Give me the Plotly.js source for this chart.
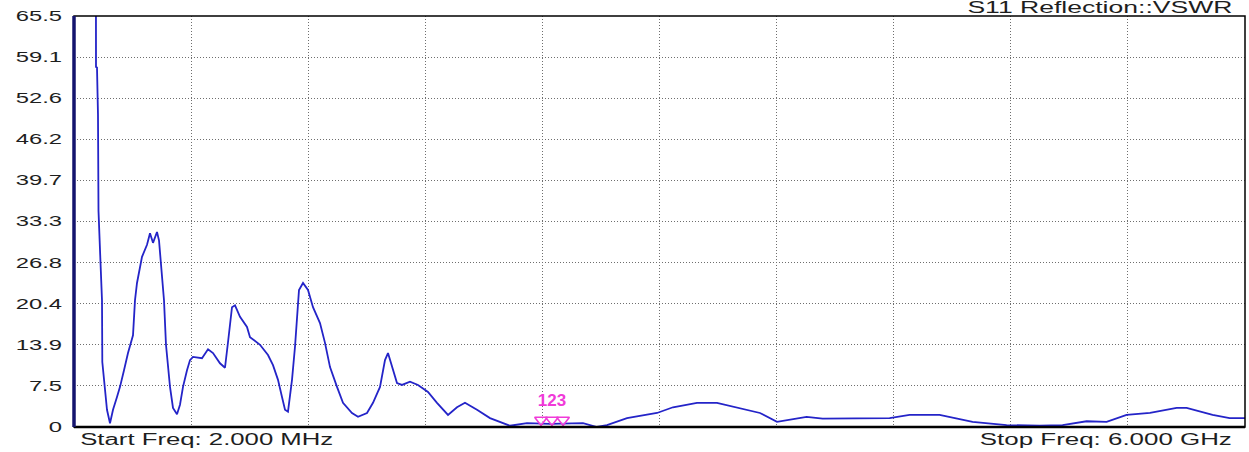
<!DOCTYPE html>
<html>
<head>
<meta charset="utf-8">
<script src="https://cdn.plot.ly/plotly-3.0.1.min.js"></script>
<style>
html,body{margin:0;padding:0;background:#fff;}
#chart{width:1249px;height:452px;}
</style>
</head>
<body>
<div id="chart"></div>
<script>
// Frequency in GHz and VSWR
const freqGHz = [0.002, 0.112, 0.1147, 0.1198, 0.1249, 0.1275, 0.1352, 0.1454, 0.1470, 0.1608, 0.1710, 0.1864, 0.2018, 0.2222, 0.2376, 0.2581, 0.2786, 0.3042, 0.3145, 0.3247, 0.3503, 0.3759, 0.3913, 0.4067, 0.4271, 0.4374, 0.4527, 0.4630, 0.4732, 0.4937, 0.5091, 0.5296, 0.5449, 0.5603, 0.5808, 0.5962, 0.6115, 0.6576, 0.6884, 0.7140, 0.7498, 0.7754, 0.7908, 0.8113, 0.8267, 0.8523, 0.8881, 0.9035, 0.9547, 0.9957, 1.0213, 1.0469, 1.0674, 1.0828, 1.0981, 1.1186, 1.1340, 1.1442, 1.1545, 1.1750, 1.2006, 1.2262, 1.2620, 1.2876, 1.3133, 1.3491, 1.3798, 1.4259, 1.4567, 1.5028, 1.5335, 1.5694, 1.5950, 1.6103, 1.6308, 1.6564, 1.6820, 1.7230, 1.7640, 1.8152, 1.8613, 1.9177, 1.9638, 2.0047, 2.0662, 2.1328, 2.2352, 2.3223, 2.4401, 2.6091, 2.6808, 2.7320, 2.8345, 2.9011, 2.9881, 3.0701, 3.1930, 3.2954, 3.3979, 3.5157, 3.6028, 3.6540, 3.7544, 3.8364, 4.1796, 4.2820, 4.4357, 4.6047, 4.7789, 4.9479, 5.0657, 5.1886, 5.2911, 5.3935, 5.5134, 5.6497, 5.7009, 5.8341, 5.9212, 6.000];
const vswr = [150, 150, 57.5, 57.4, 50.0, 34.9, 28.8, 20.9, 11.2, 7.3, 3.7, 1.6, 3.7, 5.7, 7.3, 9.9, 12.6, 15.4, 20.9, 23.6, 27.7, 29.6, 31.4, 29.9, 31.6, 30.3, 25.2, 20.9, 13.9, 7.3, 4.0, 3.0, 4.5, 7.3, 9.9, 11.5, 12.0, 11.8, 13.2, 12.6, 11.0, 10.3, 14.3, 19.8, 20.1, 18.3, 16.7, 15.1, 13.9, 12.3, 10.7, 8.4, 5.7, 3.7, 3.4, 8.4, 13.6, 18.9, 22.5, 23.6, 22.5, 19.8, 17.3, 14.2, 10.4, 7.3, 4.8, 3.2, 2.6, 3.2, 4.8, 7.3, 11.5, 12.6, 10.4, 7.9, 7.6, 8.1, 7.6, 6.5, 4.8, 2.9, 4.1, 4.8, 3.7, 2.4, 1.2, 1.6, 1.5, 1.6, 1.0, 1.3, 2.4, 2.7, 3.2, 4.1, 4.8, 4.8, 4.1, 3.2, 1.8, 2.1, 2.6, 2.3, 2.4, 2.9, 2.9, 1.8, 1.3, 1.2, 1.3, 1.9, 1.8, 2.9, 3.2, 4.0, 4.0, 2.9, 2.4, 2.4];

// Y-axis tick values and their printed labels
const yTickVals = [1, 7.45, 13.9, 20.35, 26.8, 33.25, 39.7, 46.15, 52.6, 59.05, 65.5];
const yTickText = ["0", "7.5", "13.9", "20.4", "26.8", "33.3", "39.7", "46.2", "52.6", "59.1", "65.5"];

// Markers 1,2,3
const markerFreq = [2.394, 2.450, 2.507];
const markerVswr = [2.1, 2.1, 2.1];
const markerLabelFreq = [2.45];
const markerLabelVswr = [4.9];
const markerLabelText = ["123"];

const startLabel = "Start Freq: 2.000 MHz";
const stopLabel = "Stop Freq: 6.000 GHz";
const chartTitle = "S11 Reflection::VSWR";

const fontFam = "Liberation Sans, Arial, sans-serif";
const textColor = "#1e1e1e";

const traces = [
  {
    x: freqGHz, y: vswr, type: "scatter", mode: "lines",
    line: {color: "#2424c8", width: 1.8},
    hoverinfo: "skip"
  },
  {
    x: markerFreq, y: markerVswr, type: "scatter", mode: "markers",
    marker: {symbol: "triangle-down", size: 11, color: "rgba(255,255,255,0.6)", line: {color: "#f03ad8", width: 1.6}},
    hoverinfo: "skip", cliponaxis: false
  },
  {
    x: markerLabelFreq, y: markerLabelVswr, type: "scatter", mode: "text",
    text: markerLabelText, textposition: "middle center",
    textfont: {family: fontFam, size: 17, color: "#f03ad8", weight: "bold"},
    hoverinfo: "skip", cliponaxis: false
  }
];

const layout = {
  width: 1249, height: 452,
  margin: {l: 74, r: 4, t: 16, b: 25},
  paper_bgcolor: "#ffffff", plot_bgcolor: "#ffffff",
  showlegend: false,
  xaxis: {
    range: [0.002, 6.0], tick0: 0.002, dtick: 0.5998, tickmode: "linear",
    showticklabels: false, ticks: "",
    showgrid: true, gridcolor: "#6e6e6e", griddash: "1px,2px", gridwidth: 1,
    zeroline: false, showline: false, fixedrange: true
  },
  yaxis: {
    range: [1, 65.5], tickmode: "array", tickvals: yTickVals, ticktext: yTickText,
    ticks: "", ticklabelstandoff: 11,
    tickfont: {family: fontFam, size: 14, color: textColor},
    showgrid: true, gridcolor: "#6e6e6e", griddash: "1px,2px", gridwidth: 1,
    zeroline: false, showline: false, fixedrange: true
  },
  shapes: [
    {type: "rect", xref: "paper", yref: "paper", x0: 0, x1: 1, y0: 0, y1: 1,
     line: {color: "#000", width: 1.5}, layer: "above"},
    {type: "line", xref: "paper", yref: "paper", x0: 0, x1: 1, y0: 0, y1: 0,
     line: {color: "#000", width: 2.5}, layer: "above"},
    {type: "line", xref: "paper", yref: "paper", x0: 0, x1: 0, y0: 0, y1: 1,
     line: {color: "#14146e", width: 3.5}, layer: "above"}
  ],
  annotations: [
    {text: chartTitle, xref: "paper", yref: "paper", x: 0.8766, y: 1.021,
     xanchor: "center", yanchor: "middle", showarrow: false,
     font: {family: fontFam, size: 16, color: textColor}},
    {text: startLabel, xref: "paper", yref: "paper", x: 0.1132, y: -0.031,
     xanchor: "center", yanchor: "middle", showarrow: false,
     font: {family: fontFam, size: 16, color: textColor}},
    {text: stopLabel, xref: "paper", yref: "paper", x: 0.8813, y: -0.031,
     xanchor: "center", yanchor: "middle", showarrow: false,
     font: {family: fontFam, size: 16, color: textColor}}
  ]
};

// widths (px) of the horizontally stretched texts in the reference
const annotationWidths = [265, 253, 252];
const tickStretch = 1.7;

Plotly.newPlot("chart", traces, layout, {staticPlot: true, displayModeBar: false}).then(function (gd) {
  gd.querySelectorAll(".ytick text").forEach(function (t) {
    const w = t.getComputedTextLength();
    t.setAttribute("textLength", (w * tickStretch).toFixed(1));
    t.setAttribute("lengthAdjust", "spacingAndGlyphs");
  });
  gd.querySelectorAll(".annotation-text").forEach(function (t, i) {
    if (annotationWidths[i]) {
      t.setAttribute("textLength", annotationWidths[i]);
      t.setAttribute("lengthAdjust", "spacingAndGlyphs");
    }
  });
});
</script>
</body>
</html>
